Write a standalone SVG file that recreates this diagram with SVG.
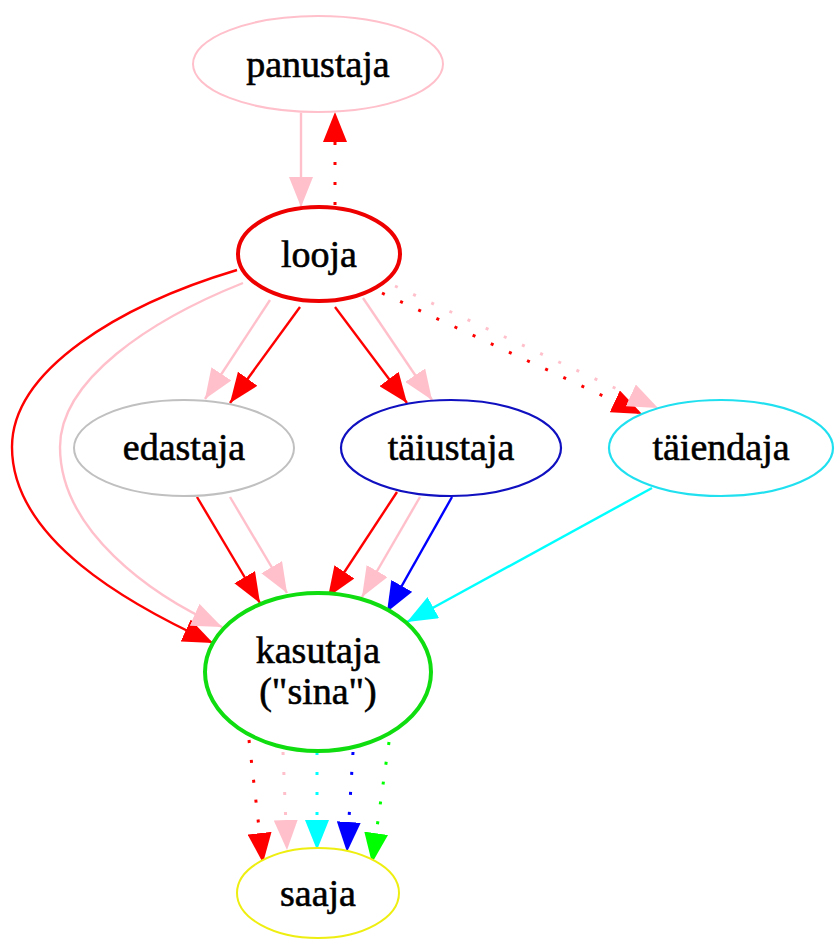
<svg xmlns="http://www.w3.org/2000/svg" width="836" height="940" viewBox="0 0 836 940">
<style>
text{font-family:"Liberation Serif","Times New Roman",serif;font-size:38px;fill:#000;stroke:#000;stroke-width:0.6;text-anchor:middle}
ellipse{fill:#fff}
.e{fill:none;stroke-width:2.4}
.d{stroke-dasharray:3 17;stroke-width:3}
.r{stroke:#ff0000}.p{stroke:#ffc0cb}.b{stroke:#0000ff}.c{stroke:#00ffff}.g{stroke:#00ff00}
</style>
<defs>
<marker id="ar" viewBox="0 0 30 24" refX="30" refY="12" markerWidth="30" markerHeight="24" markerUnits="userSpaceOnUse" orient="auto"><path d="M0,0L30,12L0,24z" fill="#ff0000"/></marker>
<marker id="ap" viewBox="0 0 30 24" refX="30" refY="12" markerWidth="30" markerHeight="24" markerUnits="userSpaceOnUse" orient="auto"><path d="M0,0L30,12L0,24z" fill="#ffc0cb"/></marker>
<marker id="ab" viewBox="0 0 30 24" refX="30" refY="12" markerWidth="30" markerHeight="24" markerUnits="userSpaceOnUse" orient="auto"><path d="M0,0L30,12L0,24z" fill="#0000ff"/></marker>
<marker id="ac" viewBox="0 0 30 24" refX="30" refY="12" markerWidth="30" markerHeight="24" markerUnits="userSpaceOnUse" orient="auto"><path d="M0,0L30,12L0,24z" fill="#00ffff"/></marker>
<marker id="ag" viewBox="0 0 30 24" refX="30" refY="12" markerWidth="30" markerHeight="24" markerUnits="userSpaceOnUse" orient="auto"><path d="M0,0L30,12L0,24z" fill="#00ff00"/></marker>
</defs>
<rect width="836" height="940" fill="#fff"/>
<g id="connectors">
<path class="e p" d="M301,113L301,207" marker-end="url(#ap)"/>
<path class="e r d" d="M335,205L335,112" marker-end="url(#ar)"/>
<path class="e r" d="M237,270C120,305 12,370 12,447C12,540 130,605 213,643" marker-end="url(#ar)"/>
<path class="e p" d="M243,283C150,320 60,380 60,447C60,530 150,595 222,627" marker-end="url(#ap)"/>
<path class="e p" d="M270,300L205,399" marker-end="url(#ap)"/>
<path class="e r" d="M300,307L230,403" marker-end="url(#ar)"/>
<path class="e r" d="M335,307L407,403" marker-end="url(#ar)"/>
<path class="e p" d="M363,298L432,400" marker-end="url(#ap)"/>
<path class="e r d" d="M382,293L642,414" marker-end="url(#ar)"/>
<path class="e p d" d="M395,286L658,408" marker-end="url(#ap)"/>
<path class="e r" d="M197,497L260,603" marker-end="url(#ar)"/>
<path class="e p" d="M230,497L287,593" marker-end="url(#ap)"/>
<path class="e r" d="M397,492L328,597" marker-end="url(#ar)"/>
<path class="e p" d="M420,497L362,597" marker-end="url(#ap)"/>
<path class="e b" d="M452,497L387,612" marker-end="url(#ab)"/>
<path class="e c" d="M652,488L407,622" marker-end="url(#ac)"/>
<path class="e r d" d="M249,740L263,863" marker-end="url(#ar)"/>
<path class="e p d" d="M283,752L287,850" marker-end="url(#ap)"/>
<path class="e c d" d="M317,752L317,850" marker-end="url(#ac)"/>
<path class="e b d" d="M353,752L347,852" marker-end="url(#ab)"/>
<path class="e g d" d="M389,742L372,863" marker-end="url(#ag)"/>
</g>
<g id="panustaja"><ellipse cx="318" cy="64" rx="125" ry="48" stroke="#ffc0cb" stroke-width="2"/><text x="318" y="77">panustaja</text></g>
<g id="looja"><ellipse cx="319" cy="254" rx="81" ry="47" stroke="#ee0000" stroke-width="4"/><text x="319" y="267">looja</text></g>
<g id="edastaja"><ellipse cx="184" cy="448" rx="110" ry="48" stroke="#c0c0c0" stroke-width="2"/><text x="184" y="460">edastaja</text></g>
<g id="taiustaja"><ellipse cx="451" cy="448" rx="110" ry="48" stroke="#1010c0" stroke-width="2.2"/><text x="451" y="460">täiustaja</text></g>
<g id="taiendaja"><ellipse cx="721" cy="448" rx="112" ry="48" stroke="#20e0f0" stroke-width="2.2"/><text x="721" y="460">täiendaja</text></g>
<g id="kasutaja"><ellipse cx="318" cy="672" rx="113" ry="79" stroke="#10dd10" stroke-width="4"/><text x="318" y="663">kasutaja</text><text x="318" y="704">("sina")</text></g>
<g id="saaja"><ellipse cx="318" cy="893" rx="81" ry="45" stroke="#eeee10" stroke-width="2"/><text x="318" y="906">saaja</text></g>
</svg>
